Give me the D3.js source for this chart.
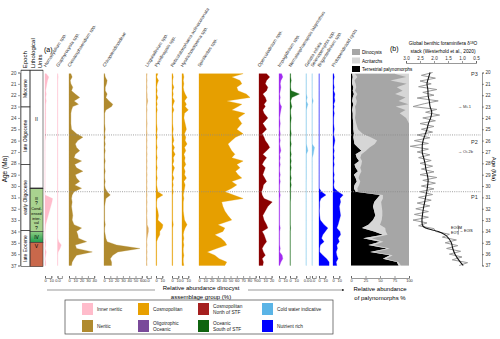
<!DOCTYPE html>
<html>
<head>
<meta charset="utf-8">
<script src="https://cdn.jsdelivr.net/npm/d3@7"></script>
<style>
  body { margin: 0; background: #fff; }
  svg { font-family: "Liberation Sans", Arial, sans-serif; }
</style>
</head>
<body>
<div id="plot"></div>
<script>
// sample ages (Ma)
const sampleAges = [20.1,20.4,20.7,21.0,21.3,21.6,21.9,22.2,22.5,22.8,23.0,23.3,23.6,24.0,24.5,25.0,25.4,25.7,26.0,26.3,26.6,26.9,27.2,27.5,27.8,28.1,28.4,28.7,29.0,29.3,29.6,29.9,30.2,30.5,30.8,31.1,31.4,31.8,32.2,32.6,33.0,33.4,33.7,34.0,34.3,34.6,34.9,35.2,35.5,35.8,36.1,36.4,36.7,37.0];

// dinocyst taxa (% of dinocyst assemblage)
const homotryblium = [2,6,4,3,2,1,2,1,2,1, 1,1,1,1,1,1,1,1,0,0, 0,0,0,0,0,0,0,0,0,0, 0,0,0,0,0,12,11,9,7,5, 3,1,0.5,0,0,0,1,1,0,2, 1,0,1,1];
const glaphyrocysta = [0.5,1,0.5,0.5,0.5,0.5,0.5,0.5,0.5,0.5, 0.5,0.5,0.5,0.5,0.5,0.5,0.5,0.5,0.5,0.5, 0.5,0.5,0.5,0.5,0.5,0.5,0.5,0.5,0.5,0.5, 0.5,0.5,0.5,0.5,0.5,0.5,0.5,0.5,0.5,0.5, 0.5,0.5,0.5,0.5,0.5,0.5,2,6,4,1, 0.5,0.5,0.5,0.5];
const cleistosphaeridium = [3,5,2,3,6,4,10,17,8,15, 6,4,3,3,3,4,12,22,14,10, 12,17,10,8,20,9,12,22,10,12, 17,9,20,8,5,4,5,4,5,6, 5,8,20,12,14,15,28,10,12,37, 12,8,5,4];
const chiropteridinoideae = [1,2,5,4,2,2,5,3,8,14, 12,3,1,1,1,2,1,2,1,2, 1,2,1,1,2,1,1,2,1,1, 2,1,2,5,10,3,2,1,1,1, 1,2,1,1,2,3,5,20,57,22, 14,10,12,12];
const lingulodinium = [1,0.5,1,0.5,1,0.5,1,1,2,1, 0.5,1,0.5,0.5,1,0.5,1,0.5,1,0.5, 1,0.5,1,0.5,1,0.5,1,0.5,1,0.5, 1,0.5,1,0.5,1,0.5,1,0.5,1,0.5, 1,1,3,3,2,1,0.5,1,0.5,1, 0.5,1,0.5,1];
const pyxidinopsis = [3,1,4,2,1,2,1,3,1,2, 1,2,1,1,1,2,1,2,1,1, 2,1,1,2,1,1,2,1,1,2, 1,1,2,3,11,2,1,1,3,4, 3,11,10,6,6,3,1,1,1,1, 1,1,1,1];
const reticulatosphaera = [1,2,1,1,3,1,2,1,4,2, 1,3,1,1,1,2,1,2,3,1, 4,2,5,2,3,1,4,2,1,3, 1,2,1,2,1,1,1,1,1,1, 1,2,1,1,1,1,1,1,1,1, 1,1,1,1];
const hystrichokolpoma = [2,3,2,3,2,3,5,8,4,7, 5,10,4,3,5,7,4,6,5,8, 4,6,3,5,4,6,3,5,4,7, 3,5,4,3,2,3,2,2,2,3, 4,8,5,3,2,3,2,3,2,2, 3,2,2,3];
const spiniferites = [70,52,65,68,60,62,75,81,44,68, 62,52,73,62,68,60,70,58,52,46, 49,52,57,52,70,60,65,58,62,68, 52,60,52,41,55,70,36,38,41,46, 52,30,41,38,25,35,41,44,28,13, 25,32,44,41];
const operculodinium = [12,17,12,10,14,12,6,10,12,8, 10,6,8,14,6,12,5,8,10,14, 17,12,6,12,8,5,10,8,6,9, 12,7,6,4,5,8,21,14,10,6, 8,12,14,5,8,10,12,8,5,7, 10,5,7,6];
const impagidinium = [4,6,3,2,3,2,1,2,1,2, 4,3,2,1,2,1,2,1,2,1, 2,3,1,2,1,2,1,1,2,1, 2,1,1,1,2,1,1,1,1,1, 1,1,2,1,1,1,1,1,2,1, 5,6,3,1];
const nematosphaeropsis = [1,1,2,1,1,2,15,3,1,2, 3,1,1,2,1,1,2,1,1,2, 1,1,2,1,2,1,2,1,1,2, 1,2,1,1,1,1,0.5,0.5,0.5,0.5, 0.5,0.5,1,0.5,0.5,0.5,0.5,0.5,0.5,0.5, 0.5,0.5,0.5,0.5];
const gelatia = [0.5,0.5,0.5,0.5,0.5,0.5,0.5,2,0.5,3, 2,0.5,0.5,0.5,0.5,0.5,0.5,0.5,0.5,0.5, 2,3,0.5,0.5,0.5,0.5,0.5,0.5,0.5,0.5, 0.3,0.3,0.3,0.3,0.3,0.3,0.3,0.3,0.3,0.3, 0.3,0.3,0.3,0.3,0.3,0.3,0.3,0.3,0.3,0.3, 0.3,0.3,0.3,0.3];
const selenopemphix = [0.3,0.3,0.3,0.3,0.3,0.3,0.3,0.3,2,0.3, 0.3,0.3,0.3,0.3,0.3,0.3,0.3,0.3,0.3,0.3, 4,3,2,0.3,0.3,0.3,0.3,0.3,0.3,0.3, 0.3,0.3,0.3,0.3,0.3,0.3,0.3,0.3,0.3,0.3, 0.3,0.3,0.3,0.3,0.3,0.3,0.3,0.3,0.3,0.3, 0.3,0.3,0.3,0.3];
const brigantedinium = [0.3,0.3,0.3,0.3,0.3,0.3,0.3,0.3,0.3,0.3, 0.3,0.3,0.3,0.3,0.3,0.3,0.3,0.3,0.3,0.3, 0.3,0.3,0.3,0.3,0.3,0.3,0.3,0.3,0.3,0.3, 0.3,0.3,0.3,4,11,3,1,1,0.5,1, 2,8,14,10,6,4,8,2,1,1, 6,12,16,16];
const protoperidinioids = [1,2,1,1,2,1,3,2,3,1, 2,1,2,1,1,2,1,2,3,2, 1,2,1,2,1,2,1,1,2,1, 2,1,2,8,16,11,12,10,11,12, 10,8,6,11,12,8,10,6,7,5, 6,8,5,6];

// palynomorph groups (% of palynomorphs)
const terrestrial = [2,3,2,2,4,3,5,3,2,4, 3,2,3,3,4,4,5,4,5,6, 12,18,8,10,14,6,8,12,5,8, 10,6,5,8,50,45,40,38,40,42, 38,30,19,40,55,21,50,30,62,33, 67,55,79,82];
const acritarchs = [5,8,4,6,5,4,6,5,8,5, 4,6,5,4,5,8,15,30,40,35, 20,8,10,6,5,12,8,6,10,5, 6,8,6,4,5,10,12,15,14,12, 15,20,40,20,8,15,6,10,5,8, 5,6,3,4];
const dinocysts = [68,84,62,88,70,82,65,86,72,90, 70,86,76,88,91,88,80,66,55,59, 68,74,82,84,81,82,84,82,85,87, 84,86,89,88,45,45,48,47,46,46, 47,50,41,40,37,64,44,60,33,59, 28,39,18,14];

// benthic d18O stack (Westerhold et al., 2020)
const rawAges = [20.0,20.25,20.5,20.75,21.0,21.25,21.5,21.75,22.0,22.25,22.5,22.75,23.0,23.25,23.5,23.75,24.0,24.25,24.5,24.75,25.0,25.25,25.5,25.75,26.0,26.25,26.5,26.75,27.0,27.25,27.5,27.75,28.0,28.25,28.5,28.75,29.0,29.25,29.5,29.75,30.0,30.25,30.5,30.75,31.0,31.25,31.5,31.75,32.0,32.25,32.5,32.75,33.0,33.25,33.5,33.75,34.0,34.25,34.5,34.75,35.0,35.25,35.5,35.75,36.0,36.25,36.5,36.75,37.0];
const rawD18O = [2.05,2.45,1.95,2.5,2.1,2.55,1.9,2.4,2.0,2.6,1.85,2.35,2.75,1.9,2.3,1.8,2.4,1.95,2.5,2.0,2.45,2.05,2.6,2.15,2.7,2.2,2.85,2.2,2.6,2.15,2.55,2.1,2.5,2.05,2.45,2.0,2.5,1.9,2.4,1.95,2.45,2.0,2.5,2.05,2.55,2.1,2.6,2.15,2.65,2.2,2.7,2.2,2.75,2.25,2.55,2.0,1.95,1.45,1.7,1.2,1.6,1.15,1.55,1.05,1.45,1.0,1.35,0.8,1.1];
const smoothAges = [20.0,20.5,21.0,21.5,22.0,22.5,23.0,23.5,24.0,24.5,25.0,25.5,26.0,26.5,27.0,27.5,28.0,28.5,29.0,29.5,30.0,30.5,31.0,31.5,32.0,32.5,33.0,33.4,33.7,34.0,34.3,34.6,35.0,35.5,36.0,36.5,37.0];
const smoothD18O = [2.14,2.2,2.25,2.22,2.21,2.17,2.14,2.08,2.12,2.2,2.25,2.32,2.39,2.42,2.42,2.37,2.32,2.29,2.24,2.21,2.23,2.26,2.3,2.34,2.38,2.41,2.43,2.42,2.3,1.85,1.6,1.48,1.38,1.33,1.25,1.12,0.96];

// stratigraphy
const ageTicks = [20,21,22,23,24,25,26,27,28,29,30,31,32,33,34,35,36,37];
const epochNames = ["Miocene","late Oligocene","early Oligocene","late Eocene"];
const epochTops = [19.8,23.03,28.1,33.9];
const epochBases = [23.03,28.1,33.9,37.1];
const unitTops = [19.8,30.2,34.0,34.97];
const unitBases = [30.2,34.0,34.97,37.1];
const d18oTicks = [3.0,2.5,2.0,1.5,1.0,0.5];
const palyTicks = [0,25,50,75,100];

const width = 500, height = 339;
const svg = d3.select("#plot").append("svg")
  .attr("width", width).attr("height", height);

const y = d3.scaleLinear().domain([20, 37]).range([72.5, 265.5]);
const colTop = y(19.8), colBot = y(37.1);

// gradient for unit IV, arrow head
const defs = svg.append("defs");
const grad = defs.append("linearGradient").attr("id", "gIV").attr("x1", 0).attr("x2", 0).attr("y1", 0).attr("y2", 1);
grad.append("stop").attr("offset", "0%").attr("stop-color", "#8fce84");
grad.append("stop").attr("offset", "100%").attr("stop-color", "#1f9a4c");
defs.append("marker").attr("id", "arr").attr("viewBox", "0 0 6 6").attr("refX", 5).attr("refY", 3)
  .attr("markerWidth", 5).attr("markerHeight", 5).attr("orient", "auto")
  .append("path").attr("d", "M0,0L6,3L0,6Z").attr("fill", "#333");

// ---- left age axis ----
const ageAxis = svg.append("g").attr("transform", "translate(20,0)")
  .call(d3.axisLeft(y).tickValues(ageTicks).tickSize(2).tickPadding(1.5));
ageAxis.selectAll("text").style("font-size", "5px").attr("fill", "#444");
ageAxis.selectAll("path,line").attr("stroke", "#444").attr("stroke-width", 0.5);
svg.append("text").attr("transform", `translate(7,${y(28.5)}) rotate(-90)`)
  .attr("text-anchor", "middle").style("font-size", "6.5px").text("Age (Ma)");

// ---- epoch & lithology columns ----
const unitFills = ["#ffffff", "#a9d38f", "url(#gIV)", "#c9684b"];
svg.selectAll("rect.unit").data(unitTops).join("rect")
  .attr("x", 30).attr("width", 13)
  .attr("y", d => y(d)).attr("height", (d, i) => y(unitBases[i]) - y(d))
  .attr("fill", (d, i) => unitFills[i]).attr("stroke", "#333").attr("stroke-width", 0.6);
svg.append("line").attr("x1", 30).attr("x2", 43).attr("y1", y(30.2)).attr("y2", y(30.2))
  .attr("stroke", "#333").attr("stroke-width", 1.4);
svg.selectAll("rect.epoch").data(epochTops).join("rect")
  .attr("x", 21).attr("width", 9)
  .attr("y", d => y(d)).attr("height", (d, i) => y(epochBases[i]) - y(d))
  .attr("fill", "none").attr("stroke", "#333").attr("stroke-width", 0.6);
svg.selectAll("text.epoch").data(epochNames).join("text")
  .attr("transform", (d, i) => `translate(27.3,${(y(epochTops[i]) + y(epochBases[i])) / 2}) rotate(-90)`)
  .attr("text-anchor", "middle").style("font-size", "5px").text(d => d);
svg.append("line").attr("x1", 21).attr("x2", 43).attr("y1", colTop).attr("y2", colTop).attr("stroke", "#333").attr("stroke-width", 0.6);
[["Epoch", 27], ["Lithological", 34.5], ["Units", 41.5]].forEach(([t, x]) => {
  svg.append("text").attr("transform", `translate(${x},${colTop - 2}) rotate(-90)`)
    .style("font-size", "6px").text(t);
});
const unitText = [["II", 24.1], ["III", 31.1], ["?", 31.5], ["Cond-", 32.0], ["ensed", 32.4], ["inter-", 32.85], ["val", 33.25], ["?", 33.7], ["IV", 34.5], ["V", 35.3]];
unitText.forEach(([t, a]) => {
  svg.append("text").attr("x", 36.5).attr("y", y(a) + 1.5).attr("text-anchor", "middle")
    .style("font-size", t.length > 2 ? "3.8px" : "5px").text(t);
});
svg.append("text").attr("x", 44).attr("y", 52).style("font-size", "7px").text("(a)");

// ---- dinocyst columns ----
const k = 0.63; // px per percent
const taxa = [
  { name: "Homotryblium spp.", v: homotryblium, x0: 45, max: 10, ticks: [0, 10], c: "#ffbccb" },
  { name: "Glaphyrocysta spp.", v: glaphyrocysta, x0: 57.5, max: 7, ticks: [0], c: "#ffbccb" },
  { name: "Cleistosphaeridium spp.", v: cleistosphaeridium, x0: 69, max: 40, ticks: [0, 10, 20, 30, 40], c: "#b08a2e" },
  { name: "Chiropteridinoideae", v: chiropteridinoideae, x0: 104, max: 60, ticks: [0, 10, 20, 30, 40, 50, 60], c: "#b08a2e" },
  { name: "Lingulodinium spp.", v: lingulodinium, x0: 146.5, max: 7, ticks: [0], c: "#d9a75a" },
  { name: "Pyxidinopsis spp.", v: pyxidinopsis, x0: 156, max: 10, ticks: [0, 10], c: "#e69f00" },
  { name: "Reticulatosphaera actinocoronata", v: reticulatosphaera, x0: 172, max: 10, ticks: [0, 10], c: "#e69f00" },
  { name: "Hystrichokolpoma spp.", v: hystrichokolpoma, x0: 182, max: 10, ticks: [0, 10], c: "#e69f00" },
  { name: "Spiniferites spp.", v: spiniferites, x0: 199, max: 90, ticks: [0, 10, 20, 30, 40, 50, 60, 70, 80, 90], c: "#e69f00" },
  { name: "Operculodinium spp.", v: operculodinium, x0: 259, max: 20, ticks: [0, 10, 20], c: "#8b0000" },
  { name: "Impagidinium spp.", v: impagidinium, x0: 279, max: 10, ticks: [0, 10], c: "#a12cf0" },
  { name: "Nematosphaeropsis labyrinthus", v: nematosphaeropsis, x0: 290, max: 10, ticks: [0, 10], c: "#1d6e1d" },
  { name: "Gelatia inflata", v: gelatia, x0: 306, max: 6, ticks: [0], c: "#7cc4ec" },
  { name: "Selenopemphix spp.", v: selenopemphix, x0: 312, max: 6, ticks: [0], c: "#7cc4ec" },
  { name: "Brigantedinium spp.", v: brigantedinium, x0: 319, max: 10, ticks: [0, 10], c: "#0000ff" },
  { name: "Protoperidinioid cysts", v: protoperidinioids, x0: 333, max: 10, ticks: [0, 10], c: "#0000ff" }
];

taxa.forEach(t => {
  const sx = d3.scaleLinear().domain([0, t.max]).range([t.x0, t.x0 + t.max * k]);
  const rows = sampleAges.map((a, i) => ({ a: a, v: t.v[i] }));
  svg.append("path").datum(rows)
    .attr("d", d3.area().y(d => y(d.a)).x0(sx(0)).x1(d => sx(d.v)))
    .attr("fill", t.c).attr("stroke", t.c).attr("stroke-width", 0.3);
  const ax = svg.append("g").attr("transform", "translate(0,278)")
    .call(d3.axisBottom(sx).tickValues(t.ticks).tickSize(-2).tickPadding(1.5));
  ax.selectAll("text").style("font-size", "4px").attr("fill", "#333");
  ax.selectAll("path,line").attr("stroke", "#333").attr("stroke-width", 0.5);
  svg.append("text").attr("transform", `translate(${t.x0 + 1},${colTop - 3}) rotate(-58)`)
    .style("font-size", "4.6px").attr("fill", "#333").text(t.name);
});

// group label with arrow
svg.append("text").attr("x", 201).attr("y", 290).attr("text-anchor", "middle")
  .style("font-size", "6px").text("Relative abundance dinocyst");
svg.append("text").attr("x", 201).attr("y", 298.5).attr("text-anchor", "middle")
  .style("font-size", "6px").text("assemblage group (%)");
svg.append("line").attr("x1", 47).attr("x2", 155).attr("y1", 290).attr("y2", 290).attr("stroke", "#333").attr("stroke-width", 0.5);
svg.append("line").attr("x1", 248).attr("x2", 344).attr("y1", 290).attr("y2", 290).attr("stroke", "#333").attr("stroke-width", 0.5)
  .attr("marker-end", "url(#arr)");

// ---- palynomorph stack ----
const px = d3.scaleLinear().domain([0, 100]).range([351, 409]);
// light panel behind the stack (shows where the sum stays under 100 %)
svg.append("rect").attr("x", px(0)).attr("width", px(100) - px(0))
  .attr("y", y(sampleAges[0])).attr("height", y(sampleAges[sampleAges.length - 1]) - y(sampleAges[0]))
  .attr("fill", "#d6d6d6");
const palyRows = sampleAges.map((a, i) => ({ age: a, terrestrial: terrestrial[i], acritarchs: acritarchs[i], dinocysts: dinocysts[i] }));
const palyKeys = ["terrestrial", "acritarchs", "dinocysts"];
const palyColors = { terrestrial: "#000000", acritarchs: "#d6d6d6", dinocysts: "#a6a6a6" };
const stack = d3.stack().keys(palyKeys)(palyRows);
svg.selectAll("path.paly").data(stack).join("path")
  .attr("d", d3.area().y(d => y(d.data.age)).x0(d => px(d[0])).x1(d => px(d[1])))
  .attr("fill", d => palyColors[d.key]);
const pax = svg.append("g").attr("transform", "translate(0,278)")
  .call(d3.axisBottom(px).tickValues(palyTicks).tickSize(-2).tickPadding(1.5));
pax.selectAll("text").style("font-size", "4px").attr("fill", "#333");
pax.selectAll("path,line").attr("stroke", "#333").attr("stroke-width", 0.5);
svg.append("text").attr("x", 380).attr("y", 291).attr("text-anchor", "middle").style("font-size", "6px").text("Relative abundance");
svg.append("text").attr("x", 380).attr("y", 299.5).attr("text-anchor", "middle").style("font-size", "6px").text("of palynomorphs %");
const palyLegend = [["Dinocysts", "#a6a6a6"], ["Acritarchs", "#d6d6d6"], ["Terrestrial palynomorphs", "#000000"]];
palyLegend.forEach(([t, c], i) => {
  svg.append("rect").attr("x", 352).attr("y", 49 + i * 8.5).attr("width", 8).attr("height", 6).attr("fill", c);
  svg.append("text").attr("x", 362).attr("y", 54 + i * 8.5).style("font-size", "4.6px").text(t);
});

// ---- d18O panel ----
const dx = d3.scaleLinear().domain([3.0, 0.5]).range([406, 476]);
const rawRows = rawAges.map((a, i) => ({ a: a, v: rawD18O[i] }));
const smoothRows = smoothAges.map((a, i) => ({ a: a, v: smoothD18O[i] }));
svg.append("path").datum(rawRows)
  .attr("d", d3.line().y(d => y(d.a)).x(d => dx(d.v)))
  .attr("fill", "none").attr("stroke", "#9a9a9a").attr("stroke-width", 1);
svg.append("path").datum(smoothRows)
  .attr("d", d3.line().curve(d3.curveMonotoneY).y(d => y(d.a)).x(d => dx(d.v)))
  .attr("fill", "none").attr("stroke", "#111").attr("stroke-width", 1.1);
const dax = svg.append("g").attr("transform", "translate(0,63)")
  .call(d3.axisTop(dx).tickValues(d18oTicks).tickFormat(d3.format(".1f")).tickSize(2).tickPadding(1.5));
dax.selectAll("text").style("font-size", "4.6px").attr("fill", "#333");
dax.selectAll("path,line").attr("stroke", "#333").attr("stroke-width", 0.5);
svg.append("text").attr("x", 390).attr("y", 51).style("font-size", "7px").text("(b)");
svg.append("text").attr("x", 443).attr("y", 45).attr("text-anchor", "middle").style("font-size", "4.8px")
  .html('Global benthic foraminifera δ<tspan dy="-1.5" font-size="3.2px">18</tspan><tspan dy="1.5">O</tspan>');
svg.append("text").attr("x", 443).attr("y", 52.5).attr("text-anchor", "middle").style("font-size", "4.8px")
  .text("stack (Westerhold et al., 2020)");
const rax = svg.append("g").attr("transform", "translate(482,0)")
  .call(d3.axisRight(y).tickValues(ageTicks).tickSize(2).tickPadding(1.5));
rax.selectAll("text").style("font-size", "4.6px").attr("fill", "#333");
rax.selectAll("path,line").attr("stroke", "#333").attr("stroke-width", 0.5);
svg.append("text").attr("transform", `translate(492,${y(28.5)}) rotate(90)`)
  .attr("text-anchor", "middle").style("font-size", "6px").text("Age (Ma)");
[["P3", 20.1], ["P2", 26.1], ["P1", 31.0]].forEach(([t, a]) => {
  svg.append("text").attr("x", 471).attr("y", y(a) + 2).style("font-size", "5.5px").attr("fill", "#333").text(t);
});
[["→ Mi-1", 23.0], ["→ Oi-2b", 27.0]].forEach(([t, a]) => {
  svg.append("text").attr("x", 458).attr("y", y(a) + 1.5).style("font-size", "4px").attr("fill", "#333").text(t);
});
svg.append("text").attr("x", 451).attr("y", y(33.65) + 1.3).style("font-size", "3.6px").text("EOGM");
svg.append("text").attr("x", 451).attr("y", y(34.1) + 1.3).style("font-size", "3.6px").text("EOT");
svg.append("path").attr("d", `M457.5,${y(33.5)}H458.5V${y(34.25)}H457.5`).attr("fill", "none").attr("stroke", "#333").attr("stroke-width", 0.4);
svg.append("text").attr("x", 459.5).attr("y", y(33.9) + 1.3).style("font-size", "3.6px").text("→ EOIS");

// ---- dotted correlation lines ----
[25.5, 30.5].forEach(a => {
  svg.append("line").attr("x1", 45).attr("x2", 481).attr("y1", y(a)).attr("y2", y(a))
    .attr("stroke", "#8a8a8a").attr("stroke-width", 0.8).attr("stroke-dasharray", "1,1.2");
});

// ---- legend ----
const legendLabels = [["Inner neritic"], ["Neritic"], ["Cosmopolitan"], ["Oligotrophic", "Oceanic"],
  ["Cosmopolitan", "North of STF"], ["Oceanic", "South of STF"], ["Cold water indicative"], ["Nutrient rich"]];
const legendColors = ["#ffbccb", "#b08a2e", "#e8a000", "#7a4a9a", "#a51f1f", "#0f640f", "#5ab4e6", "#0000ff"];
const legX = [82, 138, 198, 262], legY = [303, 320];
svg.append("rect").attr("x", 65).attr("y", 300).attr("width", 268).attr("height", 34)
  .attr("fill", "none").attr("stroke", "#444").attr("stroke-width", 0.7);
legendLabels.forEach((lines, i) => {
  const cx = legX[Math.floor(i / 2)], cy = legY[i % 2];
  svg.append("rect").attr("x", cx).attr("y", cy).attr("width", 11).attr("height", 12).attr("fill", legendColors[i]);
  lines.forEach((l, j) => {
    svg.append("text").attr("x", cx + 15).attr("y", cy + (lines.length === 1 ? 7.5 : 4.8 + j * 6))
      .style("font-size", "4.8px").attr("fill", "#222").text(l);
  });
});
</script>
</body>
</html>
